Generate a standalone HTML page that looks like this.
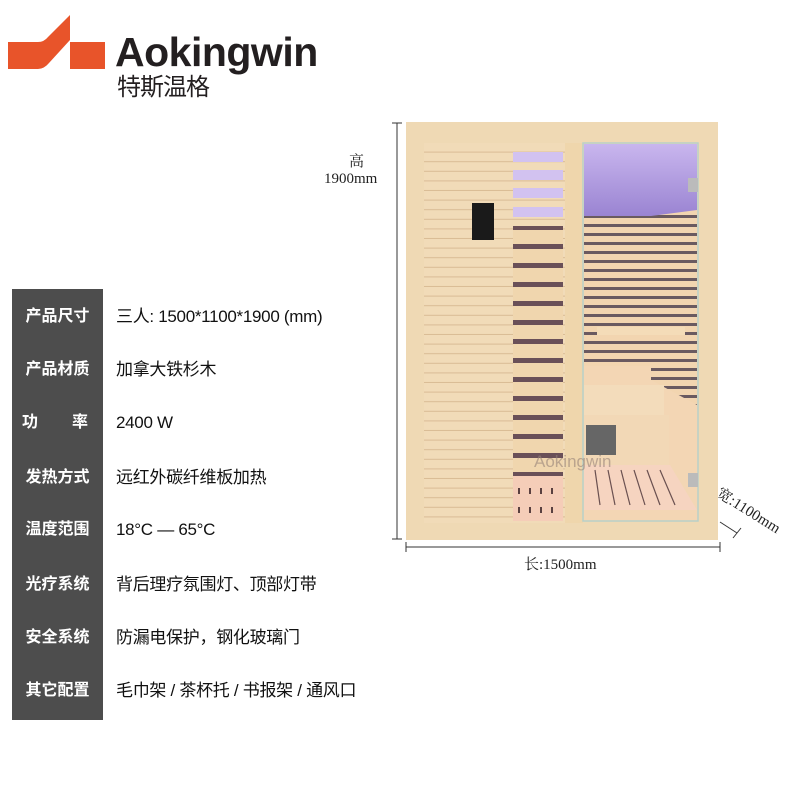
<!DOCTYPE html>
<html><head><meta charset="utf-8"><style>
body{margin:0;width:800px;height:800px;background:#fff;position:relative;overflow:hidden;font-family:"Liberation Sans","Noto Sans CJK SC",sans-serif}
.col{position:absolute;left:12px;top:289px;width:91px;height:431px;background:#4d4d4d}
.lab{position:absolute;left:12px;width:91px;text-align:center;color:#fff;font-size:16px;font-weight:bold;line-height:20px}
.val{position:absolute;left:116px;color:#111;font-size:17px;line-height:20px;letter-spacing:-0.3px}
.serif{font-family:"Liberation Serif","Noto Serif CJK SC",serif;color:#222;position:absolute;font-size:15px}
</style></head><body>
<svg style="position:absolute;left:0;top:0" width="800" height="800">
<path d="M8,42 L38,42 Q44,42 48,37 L70,15 L70,40 L49,63 Q44,69 38,69 L8,69 Z" fill="#e8542a"/>
<rect x="70" y="42" width="35" height="27" fill="#e8542a"/>
</svg>
<div style="position:absolute;left:115px;top:29px;font-size:41px;font-weight:bold;color:#231f20;letter-spacing:-0.5px;line-height:46px">Aokingwin</div>
<div style="position:absolute;left:117px;top:75px;font-size:24px;color:#231f20;letter-spacing:-1px;line-height:26px">特斯温格</div>

<div class="col"></div>
<div class="lab" style="top:307px">产品尺寸</div><div class="val" style="top:307px">三人: 1500*1100*1900 (mm)</div>
<div class="lab" style="top:360px">产品材质</div><div class="val" style="top:360px">加拿大铁杉木</div>
<div class="lab" style="top:413px;text-align:left;padding-left:10px;width:81px">功<span style="margin-left:34px">率</span></div><div class="val" style="top:413px">2400 W</div>
<div class="lab" style="top:468px">发热方式</div><div class="val" style="top:468px">远红外碳纤维板加热</div>
<div class="lab" style="top:520px">温度范围</div><div class="val" style="top:520px">18°C — 65°C</div>
<div class="lab" style="top:575px">光疗系统</div><div class="val" style="top:575px">背后理疗氛围灯、顶部灯带</div>
<div class="lab" style="top:628px">安全系统</div><div class="val" style="top:628px">防漏电保护，钢化玻璃门</div>
<div class="lab" style="top:681px">其它配置</div><div class="val" style="top:681px">毛巾架 / 茶杯托 / 书报架 / 通风口</div>

<div class="serif" style="left:349px;top:150px">高</div>
<div class="serif" style="left:324px;top:171px">1900mm</div>
<div class="serif" style="left:524px;top:553px">长:1500mm</div>
<div class="serif" style="left:724px;top:482px;transform:rotate(32deg);transform-origin:0 0">宽:1100mm</div>

<svg style="position:absolute;left:0;top:0" width="800" height="800">
<defs>
<pattern id="sl" x="0" y="143" width="10" height="9.6" patternUnits="userSpaceOnUse">
<rect width="10" height="9.6" fill="#f1dbb8"/><rect y="8.6" width="10" height="1" fill="#d9bc95"/></pattern>
<pattern id="op" x="0" y="146" width="10" height="19" patternUnits="userSpaceOnUse">
<rect width="10" height="19" fill="#f0d6ae"/><rect y="3" width="10" height="5" fill="#6a5058"/></pattern>
<pattern id="ds" x="0" y="228" width="10" height="9" patternUnits="userSpaceOnUse">
<rect width="10" height="9" fill="#f2d5b0"/><rect y="5" width="10" height="3" fill="#6a5a60"/></pattern>
<linearGradient id="pu" x1="0" y1="0" x2="0" y2="1"><stop offset="0" stop-color="#c9b6ee"/><stop offset="1" stop-color="#9a84d2"/></linearGradient>
</defs>
<line x1="397" y1="123" x2="397" y2="539" stroke="#333" stroke-width="1"/>
<line x1="392" y1="123" x2="402" y2="123" stroke="#333"/><line x1="392" y1="539" x2="402" y2="539" stroke="#333"/>
<line x1="406" y1="547" x2="720" y2="547" stroke="#333"/>
<line x1="406" y1="542" x2="406" y2="552" stroke="#333"/><line x1="720" y1="542" x2="720" y2="552" stroke="#333"/>
<line x1="720" y1="522" x2="737" y2="533" stroke="#333"/><line x1="733" y1="538" x2="741" y2="528" stroke="#333"/>
<rect x="406" y="122" width="312" height="418" fill="#efd9b4"/>
<rect x="424" y="143" width="141" height="380" fill="url(#sl)"/>
<rect x="513" y="152" width="50" height="10" fill="#d2c2f0"/>
<rect x="513" y="170" width="50" height="10" fill="#d2c2f0"/>
<rect x="513" y="188" width="50" height="10" fill="#d2c2f0"/>
<rect x="513" y="207" width="50" height="10" fill="#d2c2f0"/>
<rect x="513" y="226" width="50" height="250" fill="url(#op)"/>
<rect x="513" y="476" width="50" height="45" fill="#f5cdb8"/>
<g stroke="#5a4040" stroke-width="2"><line x1="519" y1="488" x2="519" y2="494"/><line x1="530" y1="488" x2="530" y2="494"/><line x1="541" y1="488" x2="541" y2="494"/><line x1="552" y1="488" x2="552" y2="494"/><line x1="519" y1="507" x2="519" y2="513"/><line x1="530" y1="507" x2="530" y2="513"/><line x1="541" y1="507" x2="541" y2="513"/><line x1="552" y1="507" x2="552" y2="513"/></g>
<rect x="472" y="203" width="22" height="37" fill="#1a1a1a"/>
<rect x="565" y="143" width="18" height="380" fill="#efd6ac"/>
<rect x="583" y="143" width="115" height="378" fill="#f3d6b4" stroke="#b8d0c8" stroke-width="1.5"/>
<rect x="584" y="144" width="113" height="72" fill="url(#pu)"/>
<rect x="584" y="216" width="67" height="150" fill="url(#ds)"/>
<polygon points="651,216 697,210 697,405 651,380" fill="url(#ds)"/>
<rect x="597" y="327" width="88" height="8" fill="#f4dcb8"/>
<rect x="584" y="385" width="80" height="30" fill="#f3dcbb"/>
<rect x="584" y="415" width="85" height="50" fill="#f2d8b6"/>
<rect x="586" y="425" width="30" height="30" fill="#666"/>
<polygon points="584,465 670,465 697,510 584,510" fill="#f6d4c0"/>
<g stroke="#6a5050" stroke-width="1.2"><line x1="595" y1="470" x2="600" y2="505"/><line x1="608" y1="470" x2="615" y2="505"/><line x1="621" y1="470" x2="630" y2="505"/><line x1="634" y1="470" x2="645" y2="505"/><line x1="647" y1="470" x2="660" y2="505"/><line x1="660" y1="470" x2="675" y2="505"/></g>
<rect x="688" y="178" width="10" height="14" fill="#bbb"/><rect x="688" y="473" width="10" height="14" fill="#bbb"/>
</svg>
<div style="position:absolute;left:534px;top:452px;font-size:17px;color:rgba(150,130,120,0.6)">Aokingwin</div>
</body></html>
